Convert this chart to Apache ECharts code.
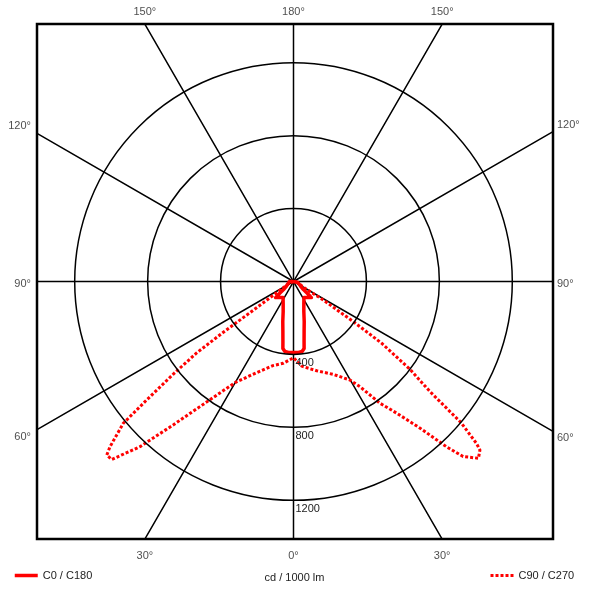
<!DOCTYPE html>
<html>
<head>
<meta charset="utf-8">
<script src="https://cdn.jsdelivr.net/npm/echarts@6/dist/echarts.min.js"></script>
<style>
html,body{margin:0;padding:0;background:#fff;}
#main{width:600px;height:591px;}
</style>
</head>
<body>
<div id="main"></div>
<script>
// 配光曲线数据: 角度 γ (度), 光强 cd / 1000 lm
var gammaC0 = [0, 4, 7, 9, 10, 12, 15, 19, 25, 33, 42, 48, 49.5, 51, 57, 77, 90, 180];
var valueC0 = [389, 390, 387, 372, 334, 280, 227, 174, 134, 105, 118, 132, 101, 70, 46, 25, 22, 0];

// C90 半边 (右)
var gammaC90 = [0, 5.5, 14.6, 23.2, 29.8, 32.3, 35.4, 38.1, 40.8, 42.8, 44.1, 46.3, 47.9, 48.5, 49.9, 51.1, 53.0, 55.0, 56.1, 58.2, 59.4, 70, 90, 180];
var valueC90 = [418, 466, 506, 554, 623, 683, 819, 918, 1063, 1236, 1337, 1403, 1378, 1340, 1200, 962, 800, 590, 400, 192, 73, 30, 10, 0];

// C270 半边 (左)
var gammaC270 = [0, 7.1, 13.8, 21.9, 30.0, 36.8, 40.0, 42.9, 45.6, 47.1, 48.0, 50.2, 51.1, 52.4, 53.6, 54.1, 54.4, 56, 60, 70, 90, 180];
var valueC270 = [418, 452, 475, 538, 640, 857, 1027, 1237, 1395, 1398, 1354, 1215, 1035, 830, 660, 480, 300, 116, 50, 25, 10, 0];

// 刻度
var ringMax = 1200;
var ringStep = 400;
var spokeAngles = [0, 30, 60, 90, 120, 150];
var labelAngles = [0, 30, 60, 90, 120, 150, 180, 210, 240, 270, 300, 330];

var legendC0 = 'C0 / C180';
var legendC90 = 'C90 / C270';
var unitText = 'cd / 1000 lm';

// 布局
var cx = 293.5, cy = 281.5, R = 218.8;
var R2 = 370;                       // 外层极坐标, 盖住整个方框
var outerMax = ringMax * R2 / R;
var box = {left: 37, top: 24, right: 553, bottom: 539};
var red = '#ff0000';
var txt = '#222';
var font = 'Liberation Sans, Arial, sans-serif';

// 角度值 -> 到边框的距离(数据单位)
function edgeValue(a) {
  var t = (270 + a) * Math.PI / 180;
  var dx = Math.cos(t), dy = -Math.sin(t);
  var tx = Infinity, ty = Infinity;
  if (dx > 1e-9) tx = (box.right - cx) / dx;
  if (dx < -1e-9) tx = (box.left - cx) / dx;
  if (dy > 1e-9) ty = (box.bottom - cy) / dy;
  if (dy < -1e-9) ty = (box.top - cy) / dy;
  return Math.min(tx, ty) / R * ringMax;
}

function buildCurve(gL, vL, gR, vR) {
  var out = [];
  for (var i = gL.length - 1; i >= 0; i--) out.push([vL[i], 360 - gL[i]]);
  for (var j = 0; j < gR.length; j++) out.push([vR[j], gR[j]]);
  return out;
}

var series = [];

// 辐射线
spokeAngles.forEach(function(a) {
  series.push({
    type: 'line', coordinateSystem: 'polar', polarIndex: 1, silent: true,
    symbol: 'none', animation: false, z: 1,
    lineStyle: {color: '#000', width: 1.5},
    data: [[edgeValue(a), a], [0, a], [edgeValue(a + 180), a + 180]]
  });
});

// 角度标签
var labelData = labelAngles.map(function(a) {
  var g = a <= 180 ? a : 360 - a;
  var t = (270 + a) * Math.PI / 180;
  var dx = Math.cos(t);
  var lab = {show: true, formatter: g + '°', color: txt, fontSize: 11, fontFamily: font};
  if (g === 180 || g === 150) { lab.position = 'top'; lab.distance = 7; }
  else if (g === 0 || g === 30) { lab.position = 'bottom'; lab.distance = 11; }
  else {
    lab.position = dx > 0 ? 'right' : 'left';
    lab.distance = dx > 0 ? 4 : 6;
    lab.offset = [0, g === 120 ? -7 : (g === 60 ? 7 : 2)];
  }
  return {value: [edgeValue(a), a], label: lab};
});
series.push({
  type: 'scatter', coordinateSystem: 'polar', polarIndex: 1, silent: true,
  symbolSize: 0, animation: false, data: labelData
});

series.push({
  name: legendC90, type: 'line', coordinateSystem: 'polar', polarIndex: 1,
  symbol: 'none', animation: false, z: 3,
  lineStyle: {color: red, width: 3, type: [3, 2]},
  itemStyle: {color: red},
  data: buildCurve(gammaC270, valueC270, gammaC90, valueC90)
});

series.push({
  name: legendC0, type: 'line', coordinateSystem: 'polar', polarIndex: 1,
  symbol: 'none', animation: false, z: 4,
  lineStyle: {color: red, width: 3.5, join: 'round'},
  itemStyle: {color: red},
  data: buildCurve(gammaC0, valueC0, gammaC0, valueC0)
});

var hiddenAngle = {
  type: 'value', min: 0, max: 360, startAngle: 270, clockwise: false,
  axisLine: {show: false}, axisTick: {show: false},
  axisLabel: {show: false}, splitLine: {show: false}
};

var myChart = echarts.init(document.getElementById('main'));
var option = {
  backgroundColor: '#fff',
  animation: false,
  polar: [
    {center: [cx, cy], radius: R},
    {center: [cx, cy], radius: R2}
  ],
  angleAxis: [
    echarts.util.extend({polarIndex: 0}, hiddenAngle),
    echarts.util.extend({polarIndex: 1}, hiddenAngle)
  ],
  radiusAxis: [
    {
      polarIndex: 0, type: 'value', min: 0, max: ringMax, interval: ringStep, z: 5,
      axisLine: {show: false}, axisTick: {show: false},
      axisLabel: {
        show: true, margin: 2, align: 'left', verticalAlign: 'top', padding: [3, 0, 0, 0],
        color: txt, fontSize: 11, fontFamily: font,
        formatter: function(v) { return v === 0 ? '' : String(v); }
      },
      splitLine: {show: true, lineStyle: {color: '#000', width: 1.5}}
    },
    {
      polarIndex: 1, type: 'value', min: 0, max: outerMax, show: false,
      axisLine: {show: false}, axisTick: {show: false},
      axisLabel: {show: false}, splitLine: {show: false}
    }
  ],
  legend: [
    {data: [legendC0], left: 8, top: 565, itemWidth: 23, itemHeight: 10, itemGap: 4,
     lineStyle: {width: 3.5}, itemStyle: {opacity: 0}, selectedMode: false,
     textStyle: {color: txt, fontSize: 11, fontFamily: font}},
    {data: [legendC90], left: 484, top: 565, itemWidth: 23, itemHeight: 10, itemGap: 4,
     lineStyle: {width: 3}, itemStyle: {opacity: 0}, selectedMode: false,
     textStyle: {color: txt, fontSize: 11, fontFamily: font}}
  ],
  graphic: [
    {type: 'rect', silent: true, z: 10,
     shape: {x: box.left, y: box.top, width: box.right - box.left, height: box.bottom - box.top},
     style: {fill: null, stroke: '#000', lineWidth: 2.5}},
    {type: 'text', silent: true, x: cx + 1, y: 578,
     style: {text: unitText, fill: txt, font: '11px "Liberation Sans", Arial, sans-serif', textAlign: 'center', textVerticalAlign: 'middle'}}
  ],
  series: series
};
myChart.setOption(option);
</script>
</body>
</html>
